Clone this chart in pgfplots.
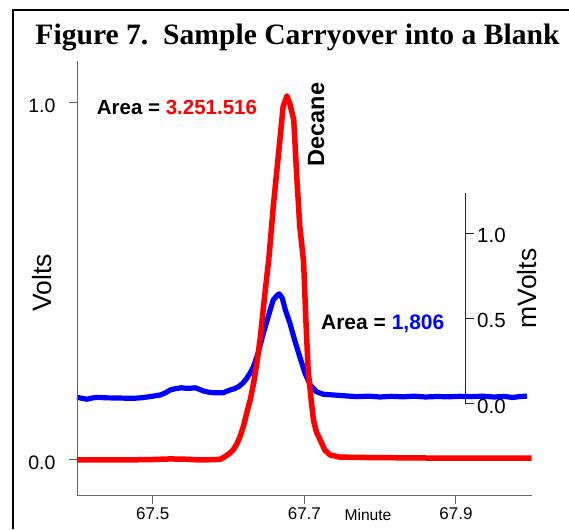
\documentclass[border=0pt]{standalone}
\usepackage{fontspec}
\setmainfont{Liberation Sans}
\newfontfamily\seriffont{Liberation Serif}
\usepackage{pgfplots}
\usepackage{pgfplotstable}
\pgfplotsset{compat=1.18}
\definecolor{axgray}{RGB}{100,100,100}
\definecolor{pure red}{RGB}{255,0,0}
\definecolor{pure blue}{RGB}{0,0,255}

\pgfplotstableread{
x y
67.400 0.000
67.450 0.000
67.496 0.001
67.523 0.003
67.545 0.002
67.562 0.000
67.580 0.001
67.589 0.002
67.595 0.009
67.601 0.018
67.606 0.028
67.611 0.045
67.615 0.065
67.620 0.097
67.624 0.132
67.629 0.172
67.633 0.215
67.638 0.280
67.642 0.345
67.648 0.467
67.653 0.560
67.659 0.709
67.666 0.859
67.672 0.989
67.677 1.019
67.681 0.996
67.686 0.952
67.690 0.793
67.694 0.653
67.699 0.554
67.702 0.392
67.705 0.252
67.709 0.168
67.712 0.112
67.716 0.078
67.721 0.056
67.727 0.028
67.734 0.014
67.747 0.008
67.778 0.007
67.892 0.005
68.000 0.005
}\redtable

\pgfplotstableread{
x y
67.400 0.039
67.407 0.033
67.413 0.028
67.420 0.035
67.426 0.039
67.440 0.036
67.455 0.035
67.474 0.033
67.486 0.037
67.496 0.043
67.510 0.053
67.517 0.066
67.523 0.082
67.530 0.090
67.538 0.095
67.544 0.092
67.549 0.092
67.556 0.095
67.561 0.087
67.567 0.076
67.573 0.070
67.580 0.066
67.593 0.066
67.598 0.075
67.602 0.082
67.608 0.090
67.613 0.101
67.619 0.122
67.624 0.150
67.629 0.185
67.633 0.219
67.639 0.297
67.646 0.414
67.653 0.521
67.659 0.609
67.664 0.636
67.667 0.645
67.671 0.620
67.675 0.551
67.681 0.475
67.686 0.394
67.694 0.277
67.701 0.180
67.708 0.111
67.716 0.072
67.725 0.057
67.738 0.053
67.756 0.047
67.770 0.043
67.785 0.046
67.800 0.041
67.815 0.045
67.830 0.042
67.845 0.046
67.860 0.041
67.875 0.044
67.890 0.042
67.905 0.045
67.920 0.043
67.935 0.046
67.950 0.041
67.965 0.044
67.975 0.038
67.985 0.044
67.994 0.046
}\bluetable

\begin{document}
\begin{tikzpicture}
\useasboundingbox (0pt,0pt) rectangle (569pt,529pt);
\draw[line width=2pt] (13pt,0pt) -- (13pt,519pt) -- (569pt,519pt);
\node[anchor=base, inner sep=0pt, font=\seriffont\bfseries\fontsize{29.6}{32}\selectfont]
  at (297.5pt,484pt) {Figure 7.\hspace{0.5em}Sample Carryover into a Blank};

% mVolts axis (blue)
\begin{axis}[
  at={(77pt,125pt)}, anchor=south west,
  scale only axis, width=388.7pt, height=210.7pt,
  xmin=67.4, xmax=67.9131, ymin=0, ymax=1.234,
  axis x line=none, axis y line*=right,
  clip=false,
  ytick={0,0.5,1.0},
  tick align=outside, major tick length=8pt,
  axis line style={black!85, line width=1pt},
  tick style={black!85, line width=1pt},
  yticklabel style={font=\fontsize{20.5}{24}\selectfont, anchor=west, yshift=-2pt},
  ylabel={mVolts},
  ylabel style={at={(rel axis cs:1.1827,0.3593)}, anchor=base west, inner sep=0pt,
    font=\fontsize{26.5}{30}\selectfont},
  /pgf/number format/fixed, /pgf/number format/fixed zerofill,
  /pgf/number format/precision=1, /pgf/number format/assume math mode=true,
]
\addplot[pure blue, line width=5.2pt, line join=round] table[x=x,y=y] {\bluetable};
\node[anchor=base west, inner sep=0pt, font=\bfseries\fontsize{21}{24}\selectfont]
  at (axis cs:67.722,0.439) {Area = \textcolor{pure blue}{1,806}};
\end{axis}

% Volts axis (red)
\begin{axis}[
  at={(77pt,33pt)}, anchor=south west,
  scale only axis, width=454.7pt, height=435pt,
  xmin=67.4, xmax=68.0, ymin=-0.1008, ymax=1.1167,
  axis x line*=bottom, axis y line*=left,
  clip=false,
  xtick={67.5,67.7,67.9}, ytick={0,1},
  tick align=outside, major tick length=8pt,
  axis line style={axgray, line width=1pt},
  tick style={axgray, line width=1pt},
  yticklabel style={font=\fontsize{19.5}{23}\selectfont, yshift=-3pt, xshift=-10pt},
  xticklabel style={font=\fontsize{17}{20}\selectfont},
  xlabel={Minute},
  xlabel style={at={(rel axis cs:0.64,-0.0552)}, anchor=base, inner sep=0pt,
    font=\fontsize{15.6}{18}\selectfont},
  ylabel={Volts},
  ylabel style={at={(rel axis cs:-0.0556,0.4237)}, anchor=base west, inner sep=0pt,
    font=\fontsize{26.5}{30}\selectfont},
  /pgf/number format/fixed, /pgf/number format/fixed zerofill,
  /pgf/number format/precision=1, /pgf/number format/assume math mode=true,
]
\addplot[pure red, line width=5.5pt, line join=round] table[x=x,y=y] {\redtable};
\node[anchor=base west, inner sep=0pt, font=\bfseries\fontsize{20.5}{24}\selectfont]
  at (axis cs:67.426,0.9675) {Area = \textcolor{pure red}{3.251.516}};
\node[anchor=base west, inner sep=0pt, rotate=90, font=\bfseries\fontsize{23.5}{26}\selectfont]
  at (axis cs:67.726,0.821) {Decane};
\end{axis}
\end{tikzpicture}
\end{document}
